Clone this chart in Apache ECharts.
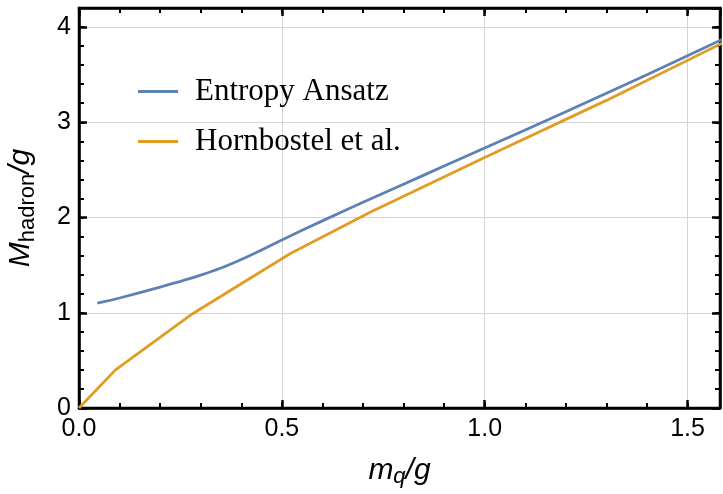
<!DOCTYPE html>
<html>
<head>
<meta charset="utf-8">
<script src="https://cdn.jsdelivr.net/npm/echarts@6/dist/echarts.min.js"></script>
<style>
  html, body { margin: 0; padding: 0; background: #fff; }
  #panel { width: 723px; height: 494px; }
</style>
</head>
<body>
<div id="panel"></div>
<script>
// values
var seriesNames = ['Entropy Ansatz', 'Hornbostel et al.'];
var entropyX = [0.045, 0.1, 0.2, 0.25, 0.3, 0.35, 0.4, 0.45, 0.5, 0.6, 0.7, 0.8, 0.9, 1.0, 1.2, 1.4, 1.59];
var entropyY = [1.10, 1.155, 1.27, 1.33, 1.395, 1.47, 1.56, 1.66, 1.765, 1.965, 2.16, 2.35, 2.54, 2.73, 3.11, 3.50, 3.88];
var hornX = [0, 0.09, 0.28, 0.52, 0.72, 1.0, 1.3, 1.59];
var hornY = [0, 0.40, 0.99, 1.62, 2.06, 2.63, 3.23, 3.84];
var xTicks = [0, 0.5, 1.0, 1.5];
var yTicks = [0, 1, 2, 3, 4];

var X_MAX = 1.58, Y_MAX = 4.2;

function pairs(xs, ys) {
    return xs.map(function (x, i) { return [x, ys[i]]; });
}

var frame = { onZero: false, lineStyle: { color: '#000', width: 2.5 } };
var noLine = { show: false, onZero: false };
var majorTick = { show: true, inside: true, length: 8, lineStyle: { color: '#000', width: 2.5 } };
var smallTick = { show: true, inside: true, length: 5, lineStyle: { color: '#000', width: 2 } };
var grayGrid = { show: true, lineStyle: { color: '#d4d4d4', width: 1 } };
var tickFont = { fontFamily: 'Liberation Sans', fontSize: 25, color: '#000' };

// mirror axes on the far sides, and tick-only axes for the minor ticks
function plainAxis(pos, max, step, tick, line) {
    return {
        type: 'value', position: pos, min: 0, max: max, interval: step,
        axisLine: line ? frame : noLine,
        axisTick: tick, splitLine: { show: false }, axisLabel: { show: false }
    };
}

var myChart = echarts.init(document.getElementById('panel'));
myChart.setOption({
    backgroundColor: '#fff',
    animation: false,
    grid: {
        left: 79, right: 3, top: 8, bottom: 86, containLabel: false, outerBoundsMode: 'none',
        show: true, borderColor: '#000', borderWidth: 2.5
    },
    legend: {
        orient: 'vertical',
        left: 133,
        top: 71,
        itemGap: 19,
        itemWidth: 40,
        itemHeight: 3,
        icon: 'rect',
        data: seriesNames,
        textStyle: { fontFamily: 'Liberation Serif', fontSize: 31, lineHeight: 31, color: '#000', padding: [0, 0, 0, 12] }
    },
    xAxis: [{
        type: 'value', position: 'bottom', min: 0, max: X_MAX, interval: 0.5,
        axisLine: frame, axisTick: majorTick,
        splitLine: grayGrid,
        axisLabel: Object.assign({
            margin: 9, showMaxLabel: false,
            formatter: function (v) { return xTicks.indexOf(v) >= 0 ? v.toFixed(1) : ''; }
        }, tickFont),
        name: '{i|m}{s|q}{i|/g}',
        nameLocation: 'middle', nameGap: 46,
        nameTextStyle: {
            rich: {
                i: { fontFamily: 'Liberation Sans', fontStyle: 'italic', fontSize: 30, color: '#000' },
                s: { fontFamily: 'Liberation Sans', fontStyle: 'italic', fontSize: 22, color: '#000', padding: [12, 0, 0, 0] }
            }
        }
    },
        plainAxis('top', X_MAX, 0.5, majorTick, true),
        plainAxis('bottom', X_MAX, 0.1, smallTick, false),
        plainAxis('top', X_MAX, 0.1, smallTick, false)
    ],
    yAxis: [{
        type: 'value', position: 'left', min: 0, max: Y_MAX, interval: 1,
        axisLine: frame, axisTick: majorTick,
        splitLine: grayGrid,
        axisLabel: Object.assign({
            margin: 8, showMaxLabel: false,
            formatter: function (v) { return yTicks.indexOf(v) >= 0 ? String(v) : ''; }
        }, tickFont),
        name: '{i|M}{s|hadron}{i|/g}',
        nameLocation: 'middle', nameGap: 40, nameRotate: 90,
        nameTextStyle: {
            rich: {
                i: { fontFamily: 'Liberation Sans', fontStyle: 'italic', fontSize: 30, color: '#000' },
                s: { fontFamily: 'Liberation Sans', fontSize: 22, color: '#000', padding: [15, 0, 0, 0] }
            }
        }
    },
        plainAxis('right', Y_MAX, 1, majorTick, true),
        plainAxis('left', Y_MAX, 0.2, smallTick, false),
        plainAxis('right', Y_MAX, 0.2, smallTick, false)
    ],
    series: [{
        name: seriesNames[0],
        type: 'line',
        smooth: 0.2,
        showSymbol: false,
        data: pairs(entropyX, entropyY),
        itemStyle: { color: '#5E81B5' },
        lineStyle: { color: '#5E81B5', width: 2.8 }
    }, {
        name: seriesNames[1],
        type: 'line',
        showSymbol: false,
        data: pairs(hornX, hornY),
        itemStyle: { color: '#E19C24' },
        lineStyle: { color: '#E19C24', width: 2.8 }
    }]
});
</script>
</body>
</html>
